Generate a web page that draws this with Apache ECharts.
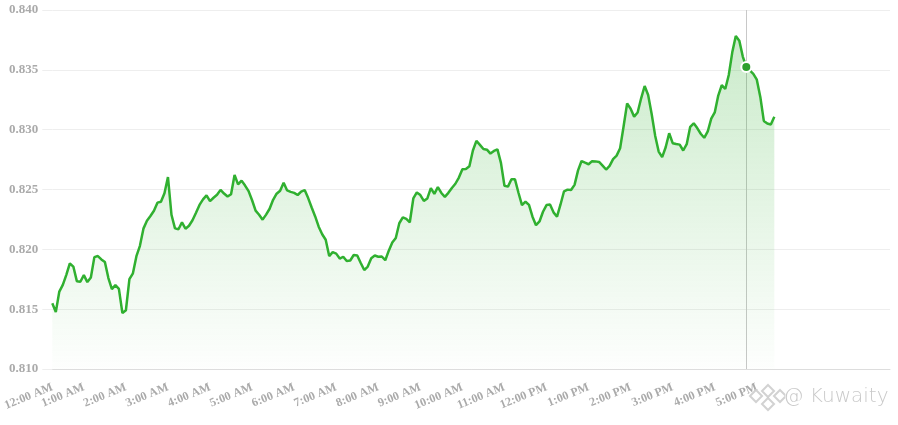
<!DOCTYPE html>
<html>
<head>
<meta charset="utf-8">
<style>
  html, body { margin: 0; padding: 0; background: #ffffff; }
  #chart { width: 898px; height: 425px; }
</style>
<script src="https://cdn.jsdelivr.net/npm/echarts@6/dist/echarts.min.js"></script>
</head>
<body>
<div id="chart"></div>
<script>
// ---- data ----
// 5-minute samples starting at 00:15
const startMinute = 15;
const stepMinutes = 5;
const categoryCount = 240;

const values = [
  0.81549,0.81475,0.81647,0.81703,0.81787,0.81882,0.81856,0.81734,0.81729,0.81784,
  0.81726,0.81765,0.81935,0.81944,0.81916,0.81894,0.81760,0.81667,0.81701,0.81669,
  0.81467,0.81491,0.81751,0.81800,0.81943,0.82029,0.82173,0.82239,0.82278,0.82322,
  0.82390,0.82398,0.82468,0.82604,0.82289,0.82175,0.82168,0.82226,0.82172,0.82197,
  0.82243,0.82305,0.82371,0.82417,0.82451,0.82403,0.82431,0.82456,0.82497,0.82466,
  0.82441,0.82461,0.82621,0.82543,0.82574,0.82533,0.82486,0.82410,0.82323,0.82289,
  0.82248,0.82290,0.82339,0.82414,0.82465,0.82490,0.82557,0.82492,0.82480,0.82472,
  0.82454,0.82483,0.82495,0.82428,0.82350,0.82275,0.82189,0.82126,0.82080,0.81944,
  0.81976,0.81964,0.81923,0.81938,0.81902,0.81907,0.81953,0.81948,0.81886,0.81827,
  0.81856,0.81926,0.81948,0.81938,0.81940,0.81909,0.81989,0.82057,0.82095,0.82218,
  0.82267,0.82254,0.82226,0.82425,0.82475,0.82453,0.82405,0.82425,0.82512,0.82463,
  0.82520,0.82471,0.82438,0.82472,0.82513,0.82548,0.82600,0.82670,0.82672,0.82695,
  0.82826,0.82906,0.82873,0.82838,0.82833,0.82800,0.82822,0.82835,0.82722,0.82531,
  0.82524,0.82585,0.82585,0.82473,0.82370,0.82398,0.82371,0.82273,0.82202,0.82233,
  0.82314,0.82370,0.82374,0.82309,0.82273,0.82375,0.82485,0.82499,0.82496,0.82539,
  0.82660,0.82738,0.82724,0.82711,0.82737,0.82735,0.82730,0.82700,0.82667,0.82697,
  0.82754,0.82783,0.82845,0.83029,0.83220,0.83175,0.83109,0.83143,0.83262,0.83365,
  0.83290,0.83131,0.82950,0.82817,0.82770,0.82853,0.82970,0.82887,0.82880,0.82875,
  0.82826,0.82879,0.83024,0.83053,0.83013,0.82966,0.82932,0.82985,0.83092,0.83144,
  0.83285,0.83372,0.83340,0.83457,0.83646,0.83783,0.83744,0.83611,0.83524,0.83495,
  0.83467,0.83418,0.83274,0.83073,0.83051,0.83043,0.83108
];

const tickIndex = [0, 9, 21, 33, 45, 57, 69, 81, 93, 105, 117, 129, 141, 153, 165, 177, 189, 201];
const tickLabels = ['12:00 AM','1:00 AM','2:00 AM','3:00 AM','4:00 AM','5:00 AM','6:00 AM',
  '7:00 AM','8:00 AM','9:00 AM','10:00 AM','11:00 AM','12:00 PM','1:00 PM','2:00 PM',
  '3:00 PM','4:00 PM','5:00 PM'];

const yMin = 0.810, yMax = 0.840, yStep = 0.005;
const highlightIndex = 198;

// categories (time strings)
const categories = [];
for (let i = 0; i < categoryCount; i++) {
  const m = startMinute + stepMinutes * i;
  const hh = String(Math.floor(m / 60)).padStart(2, '0');
  const mm = String(m % 60).padStart(2, '0');
  categories.push(hh + ':' + mm);
}

const green = '#2ca02c';
const labelFont = { color: '#aaaaaa', fontFamily: 'Liberation Serif', fontWeight: 'bold', fontSize: 12 };

// watermark logo: small diamonds
const wmStroke = 'rgba(205,205,205,0.9)';
function diamond(cx, cy, r) {
  return {
    type: 'polygon', z: 100, silent: true,
    shape: { points: [[cx, cy - r], [cx + r, cy], [cx, cy + r], [cx - r, cy]] },
    style: { fill: 'rgba(255,255,255,0.6)', stroke: wmStroke, lineWidth: 2 }
  };
}

const chart = echarts.init(document.getElementById('chart'), null, { renderer: 'canvas' });
chart.setOption({
  animation: false,
  grid: { left: 51, right: 8, top: 10, bottom: 56, containLabel: false },
  tooltip: {
    trigger: 'axis',
    showContent: false,
    axisPointer: { type: 'line', z: 3, lineStyle: { color: '#c8c8c8', width: 1, type: 'solid' } }
  },
  xAxis: {
    type: 'category',
    data: categories,
    boundaryGap: false,
    axisLine: { show: true, lineStyle: { color: '#dddddd', width: 1 } },
    axisTick: { show: false },
    splitLine: { show: false },
    axisLabel: Object.assign({
      rotate: 22,
      margin: 18,
      interval: function (index) { return tickIndex.indexOf(index) >= 0; },
      formatter: function (value, index) {
        const k = tickIndex.indexOf(index);
        return k >= 0 ? tickLabels[k] : '';
      }
    }, labelFont)
  },
  yAxis: {
    type: 'value',
    min: yMin,
    max: yMax,
    interval: yStep,
    axisLine: { show: false },
    axisTick: { show: true, length: 10, lineStyle: { color: '#eeeeee' } },
    splitLine: { show: true, lineStyle: { color: '#eeeeee', width: 1 } },
    axisLabel: Object.assign({}, labelFont, {
      fontSize: 13,
      margin: 14,
      formatter: function (v) { return v.toFixed(3); }
    })
  },
  series: [{
    type: 'line',
    data: values,
    showSymbol: false,
    symbol: 'circle',
    symbolSize: 0.1,
    smooth: false,
    lineStyle: { color: green, width: 2.5 },
    itemStyle: { color: green },
    emphasis: { scale: false, lineStyle: { width: 2.5 } },
    areaStyle: {
      color: new echarts.graphic.LinearGradient(0, 0, 0, 1, [
        { offset: 0, color: 'rgba(44,160,44,0.36)' },
        { offset: 1, color: 'rgba(44,160,44,0.01)' }
      ])
    },
    markPoint: {
      silent: true,
      z: 80,
      symbol: 'circle',
      symbolSize: 10,
      label: { show: false },
      itemStyle: { color: green, borderColor: '#ffffff', borderWidth: 2 },
      data: [{ coord: [highlightIndex, values[highlightIndex]] }]
    }
  }],
  graphic: [
    diamond(756, 396, 6),
    diamond(768, 391, 6),
    diamond(780, 396, 6),
    diamond(768, 404, 6),
    {
      type: 'text',
      left: 783,
      top: 386,
      z: 100,
      silent: true,
      style: {
        text: '@ Kuwaity',
        fill: 'rgba(195,195,195,0.9)',
        stroke: '#ffffff',
        lineWidth: 1,
        fontSize: 20,
        fontFamily: 'DejaVu Sans',
        fontWeight: 'lighter'
      }
    }
  ]
});

function showPointer() {
  chart.dispatchAction({ type: 'showTip', seriesIndex: 0, dataIndex: highlightIndex });
}
showPointer();
setTimeout(showPointer, 50);
</script>
</body>
</html>
